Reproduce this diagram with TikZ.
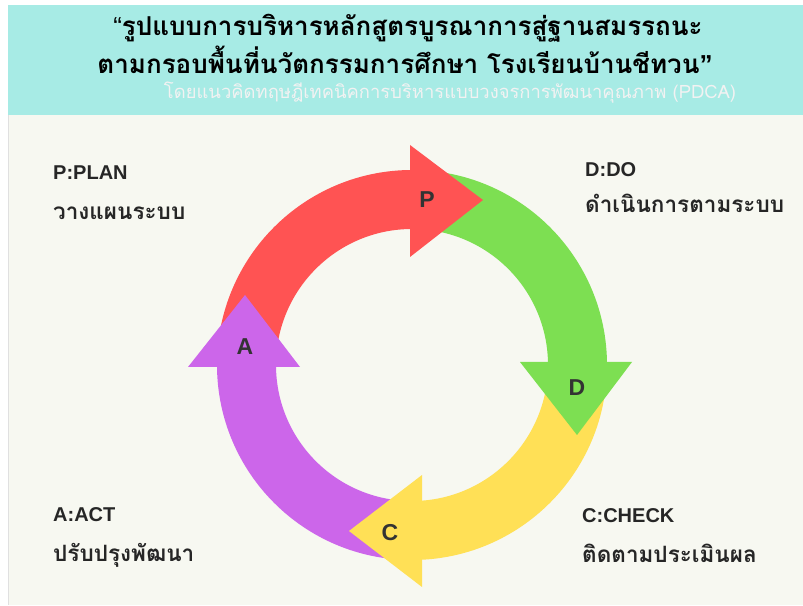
\documentclass[tikz,border=0pt]{standalone}
\usepackage{fontspec}
\setmainfont{Liberation Sans}
\newfontfamily\thaifont[Script=Thai]{Loma}
\definecolor{headbg}{HTML}{A7EBE5}
\definecolor{pagebg}{HTML}{F7F8F1}
\definecolor{planred}{HTML}{FF5353}
\definecolor{dogreen}{HTML}{7DDF52}
\definecolor{checkyellow}{HTML}{FFE056}
\definecolor{actpurple}{HTML}{CC66EA}
\definecolor{lettergray}{HTML}{333333}
\begin{document}
\begin{tikzpicture}[x=1pt,y=1pt,
    letter/.style={font=\fontsize{23}{23}\selectfont\bfseries, text=lettergray},
    phase/.style={anchor=base west, inner sep=0pt, font=\fontsize{20}{20}\selectfont\bfseries, text=black!85},
    thai/.style={anchor=base west, inner sep=0pt, font=\thaifont\fontsize{22.5}{22.5}\selectfont\bfseries, text=black!85},
    headline/.style={inner sep=0pt, font=\thaifont\fontsize{26}{26}\selectfont\bfseries}]
  \useasboundingbox (0,0) rectangle (803,605);
  \fill[white] (0,0) rectangle (803,605);
  \fill[pagebg] (8,0) rectangle (803,490);
  \fill[headbg] (8,490) rectangle (803,600);
  \draw[black!12] (8,0) -- (8,490);
  \node[headline] (title1) at (408,577) {{\rmfamily\mdseries “}รูปแบบการบริหารหลักสูตรบูรณาการสู่ฐานสมรรถนะ};
  \node[headline] (title2) at (405,545) {ตามกรอบพื้นที่นวัตกรรมการศึกษา โรงเรียนบ้านชีทวน{\rmfamily ”}};
  \node[inner sep=0pt, text=white!95!black, font=\thaifont\fontsize{18.4}{18.4}\selectfont] (subtitle) at (450,512) {โดยแนวคิดทฤษฎีเทคนิคการบริหารแบบวงจรการพัฒนาคุณภาพ (PDCA)};
  \begin{scope}[shift={(412,240)}]
    \fill[planred] (180:195) arc (180:90:195) -- (90:136) arc (90:180:136) -- cycle;
    \fill[dogreen] (90:195) arc (90:0:195) -- (0:136) arc (0:90:136) -- cycle;
    \fill[checkyellow] (0:195) arc (360:270:195) -- (270:136) arc (270:360:136) -- cycle;
    \fill[actpurple] (270:195) arc (270:180:195) -- (180:136) arc (180:270:136) -- cycle;
    \fill[planred] (-2,220) -- (71,165) -- (-2,108) -- cycle;
    \fill[dogreen] (108,3) -- (220,3) -- (165,-70) -- cycle;
    \fill[checkyellow] (10,-110) -- (-63,-166) -- (10,-222) -- cycle;
    \fill[actpurple] (-224,-2) -- (-167,70) -- (-112,-2) -- cycle;
    \node[letter] (p) at (15,165) {P};
    \node[letter] (d) at (165,-23) {D};
    \node[letter] (c) at (-22,-168) {C};
    \node[letter] (a) at (-167,18) {A};
  \end{scope}
  \node[phase] (plan) at (53,425) {P:PLAN};
  \node[thai] (planth) at (53,385) {วางแผนระบบ};
  \node[phase] (do) at (585,428) {D:DO};
  \node[thai] (doth) at (585,392) {ดำเนินการตามระบบ};
  \node[phase] (act) at (53,83) {A:ACT};
  \node[thai] (actth) at (53,43) {ปรับปรุงพัฒนา};
  \node[phase] (check) at (582,82) {C:CHECK};
  \node[thai] (checkth) at (582,42) {ติดตามประเมินผล};
\end{tikzpicture}
\end{document}
